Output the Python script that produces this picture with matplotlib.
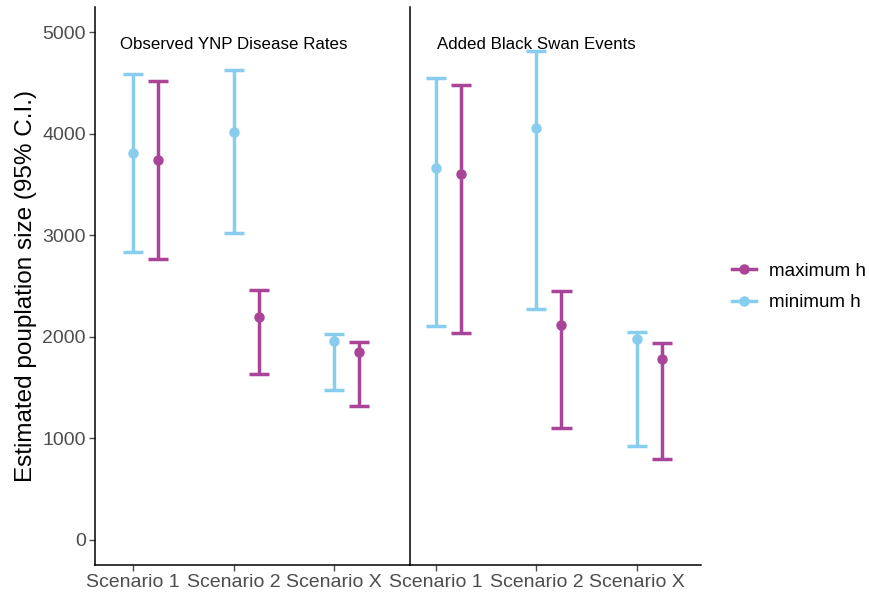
import matplotlib
matplotlib.use("Agg")
import matplotlib.pyplot as plt
from matplotlib.lines import Line2D
import numpy as np

plt.rcParams["font.family"] = ["Liberation Sans", "DejaVu Sans"]

scenarios = ["Scenario 1", "Scenario 2", "Scenario X"]
panel_titles = ["Observed YNP Disease Rates", "Added Black Swan Events"]

# estimates and 95% CI, one row per panel, one column per scenario
min_est = [[3810, 4015, 1962], [3665, 4058, 1981]]
min_lo = [[2832, 3019, 1470], [2106, 2271, 925]]
min_hi = [[4590, 4633, 2024], [4550, 4813, 2047]]

max_est = [[3740, 2192, 1854], [3602, 2113, 1781]]
max_lo = [[2763, 1637, 1319], [2034, 1102, 794]]
max_hi = [[4521, 2461, 1945], [4485, 2451, 1936]]

col_max = "#AA4499"
col_min = "#88CCEE"
W, H = 870, 592
fig = plt.figure(figsize=(W / 100, H / 100), dpi=100)

def px_axes(x0, x1, y0, y1):
    return fig.add_axes([x0 / W, 1 - y1 / H, (x1 - x0) / W, (y1 - y0) / H])

axes = [px_axes(95, 410, 7, 565), px_axes(410, 701, 7, 565)]
xlims = [(0.62, 3.753), (0.744, 3.637)]

tick_col = "#4D4D4D"
for k, ax in enumerate(axes):
    x = np.arange(1, len(scenarios) + 1)
    for est, lo, hi, col, off in [
        (max_est[k], max_lo[k], max_hi[k], col_max, 0.25),
        (min_est[k], min_lo[k], min_hi[k], col_min, 0.0),
    ]:
        xs = x + off
        ax.vlines(xs, lo, hi, color=col, lw=2.5, zorder=2)
        ax.hlines(lo, xs - 0.1, xs + 0.1, color=col, lw=2.5, zorder=2)
        ax.hlines(hi, xs - 0.1, xs + 0.1, color=col, lw=2.5, zorder=2)
        ax.plot(xs, est, "o", color=col, ms=6.5, zorder=3)

    ax.text(2, 4880, panel_titles[k], ha="center", va="center",
            fontsize=12.2, color="black")

    ax.set_xlim(*xlims[k])
    ax.set_ylim(-250, 5250)
    ax.set_xticks(x)
    ax.set_xticklabels(scenarios)
    for s in ["top", "right"]:
        ax.spines[s].set_visible(False)
    for s in ["left", "bottom"]:
        ax.spines[s].set_color("black")
        ax.spines[s].set_linewidth(1.1)
    ax.tick_params(axis="both", colors=tick_col, labelcolor=tick_col,
                   labelsize=14, length=4.5, width=1.0, pad=2)
    ax.set_yticks([0, 1000, 2000, 3000, 4000, 5000])

axes[0].set_ylabel("Estimated pouplation size (95% C.I.)", fontsize=17.5,
                   color="black", labelpad=4)
axes[1].tick_params(axis="y", left=False, labelleft=False)

handles = [
    Line2D([], [], color=col_max, lw=2.5, marker="o", ms=6.5),
    Line2D([], [], color=col_min, lw=2.5, marker="o", ms=6.5),
]
fig.legend(handles, ["maximum h", "minimum h"], loc="center left",
           bbox_to_anchor=(732 / W, 1 - 287 / H), frameon=False,
           fontsize=13.5, handlelength=1.3, handletextpad=0.65,
           labelspacing=0.75, borderaxespad=0, borderpad=0)

fig.savefig("out.png", dpi=100, facecolor="white")
